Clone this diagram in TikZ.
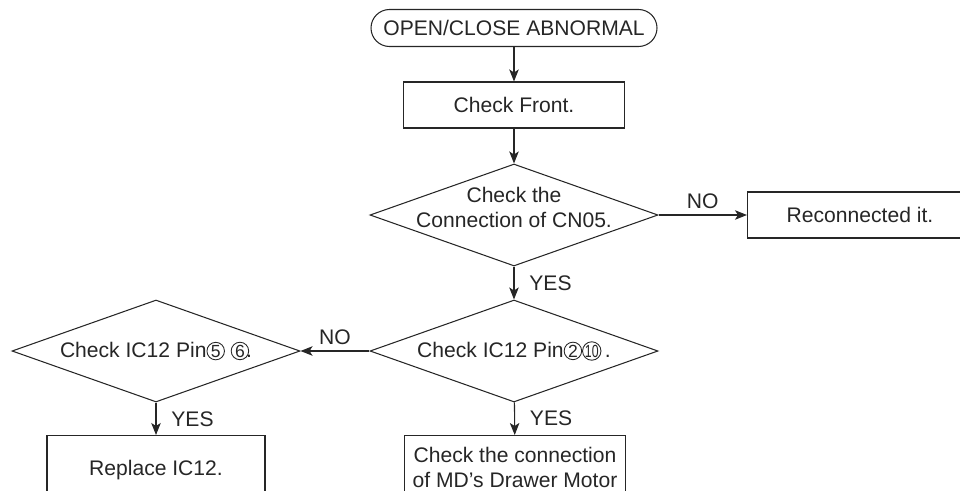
\documentclass[tikz,border=0pt]{standalone}
\usepackage{fontspec}
\setmainfont{Liberation Sans}
\usepackage{graphicx}
\usepackage{tikz}
\usetikzlibrary{arrows.meta}
\usetikzlibrary{positioning,shapes.geometric}

% circled pin number
\newcommand{\pinno}[1]{\tikz[baseline=(n.base)]\node[circle,draw=black!85,line width=0.5pt,
inner sep=0pt,minimum size=3.5mm,font=\fontsize{10}{10}\selectfont](n){#1};}

\begin{document}
\begin{tikzpicture}[node distance=0cm,>={Stealth[length=2.4mm,width=1.9mm,inset=0.6mm]},
line width=0.6pt,every node/.style={font=\fontsize{12}{14.2}\selectfont,text=black!85}]
\tikzstyle{every label}=[align=center]
\tikzstyle{box}=[rectangle,draw=black!85,minimum height=9.2mm,minimum width=44.2mm]
\tikzstyle{check}=[diamond,draw=black!85,minimum height=20.4mm,minimum width=57.6mm,inner sep=0pt]
\useasboundingbox (0,0) rectangle (19.2,9.8);
\clip (0,0) rectangle (19.2,9.8);

\node (Start) [rectangle, rounded corners=3.7mm, draw=black!85, xshift=10.28cm, yshift=9.24cm,
minimum height=7.4mm, minimum width=57.2mm] {OPEN/CLOSE ABNORMAL};
\node (Front) [box, xshift=10.28cm, yshift=7.7cm] {Check Front.};
\node (Conn) [check, xshift=10.28cm, yshift=5.5cm,
label={[yshift=1.5mm]center:Check the\\Connection of CN05.}] {};
\node (Reconn) [box, xshift=17.2cm, yshift=5.5cm, minimum width=45mm] {Reconnected it.};
\node (Pins) [check, xshift=10.28cm, yshift=2.78cm,
label={center:Check IC12 Pin\pinno{2}\pinno{\scalebox{0.7}[1]{10}}\,.}] {};
\node (PinsB) [check, xshift=3.12cm, yshift=2.78cm,
label={center:Check IC12 Pin\pinno{5} \pinno{6}\hspace{-0.6mm}.}] {};
\node (Motor) [box, anchor=north, align=center, inner ysep=2.4mm, xshift=10.3cm, yshift=1.1cm]
{Check the connection\\of MD's Drawer Motor};
\node (Replace) [box, anchor=north, xshift=3.12cm, yshift=1.1cm, minimum height=14mm,
minimum width=43.6mm] {Replace IC12.};

\draw[->,black!85] (Start) -- (Front);
\draw[->,black!85] (Front) -- (Conn);
\draw[->,black!85] (Conn) -- node[above] {NO} (Reconn);
\draw[->,black!85] (Conn) -- node[right=1.8mm] {YES} (Pins);
\draw[->,black!85] (Pins) -- node[above] {NO} (PinsB);
\draw[->,black!85] (Pins) -- node[right=1.8mm] {YES} (Motor);
\draw[->,black!85] (PinsB) -- node[right=1.8mm] {YES} (Replace);

\end{tikzpicture}
\end{document}
